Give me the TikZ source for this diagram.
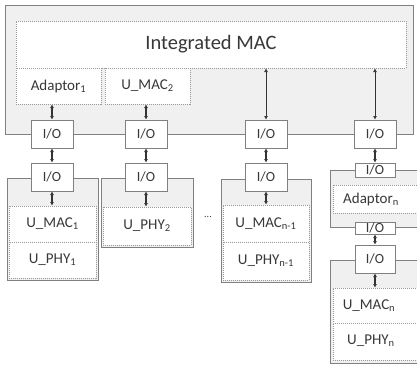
\documentclass[tikz,border=0pt]{standalone}
\usepackage{fontspec}
\setmainfont{Carlito}
\usetikzlibrary{arrows.meta}
\definecolor{edge}{HTML}{808080}
\definecolor{dots}{HTML}{999999}
\definecolor{fillg}{HTML}{F0F0F0}
\definecolor{txt}{HTML}{383838}
\tikzset{
  graybox/.style={draw=edge, line width=1pt, fill=fillg, inner sep=0pt},
  dotbox/.style={draw=dots, line width=1pt, dash pattern=on 1pt off 1pt, fill=white, inner sep=0pt, text=txt, font=\fontsize{15}{15}\selectfont},
  iobox/.style={draw=edge, line width=1pt, fill=white, inner sep=0pt, text=txt, font=\fontsize{14}{14}\selectfont, minimum width=42pt, minimum height=28pt},
  lbl/.style={text=txt, font=\fontsize{15}{15}\selectfont, inner sep=0pt},
  arr/.style={{Latex[length=3.5pt,width=4pt]}-{Latex[length=3.5pt,width=4pt]}, line width=1.1pt, draw=black!80},
  longarr/.style={{Latex[length=3.5pt,width=4pt]}-{Latex[length=3.5pt,width=4pt]}, line width=0.6pt, draw=black!80}
}
\begin{document}
\begin{tikzpicture}[x=1pt,y=-1pt]
\clip (0,0) rectangle (417,368);
\fill[white] (0,0) rectangle (417,368);
% top block
\node[graybox, minimum width=408pt, minimum height=129pt] (outer) at (209,69.5) {};
\node[dotbox, minimum width=390pt, minimum height=47pt, font=\fontsize{20.5}{20.5}\selectfont] (imac) at (211,44.5) {Integrated MAC};
\node[dotbox, minimum width=85pt, minimum height=36pt] (ad1) at (58.5,86) {Adaptor\textsubscript{1}};
\node[dotbox, minimum width=85pt, minimum height=36pt] (um2) at (147.5,86) {U\_MAC\textsubscript{2}};
% lower blocks
\node[graybox, minimum width=91pt, minimum height=102pt] (b1) at (52.5,229) {};
\node[graybox, minimum width=92pt, minimum height=69pt] (b2) at (147,212.5) {};
\node[graybox, minimum width=90pt, minimum height=103pt] (b3) at (266,230.5) {};
\node[dotbox, minimum width=87pt, minimum height=36pt] (um1) at (52.5,224) {U\_MAC\textsubscript{1}};
\node[dotbox, minimum width=87pt, minimum height=36pt] (up1) at (52.5,260) {U\_PHY\textsubscript{1}};
\node[dotbox, minimum width=88pt, minimum height=38pt] (up2) at (147,226) {U\_PHY\textsubscript{2}};
\node[dotbox, minimum width=86pt, minimum height=37pt] (umn1) at (266,223.5) {U\_MAC\textsubscript{n-1}};
\node[dotbox, minimum width=86pt, minimum height=38pt] (upn1) at (266,261) {U\_PHY\textsubscript{n-1}};
\node[text=txt, font=\fontsize{10}{10}\selectfont, inner sep=0pt] (dts) at (208,217) {...};
% column n
\node[graybox, minimum width=95pt, minimum height=57pt] (bn1) at (377.5,198.5) {};
\node[dotbox, minimum width=92pt, minimum height=28pt] (adn) at (379,199) {};
\node[lbl] (adnt) at (371,199) {Adaptor\textsubscript{n}};
\node[graybox, minimum width=95pt, minimum height=103pt] (bn2) at (377.5,311.5) {};
\node[dotbox, minimum width=92pt, minimum height=35pt] (umn) at (379,305.5) {};
\node[lbl] (umnt) at (369,306) {U\_MAC\textsubscript{n}};
\node[dotbox, minimum width=92pt, minimum height=37pt] (upn) at (379,341.5) {};
\node[lbl] (upnt) at (371,341) {U\_PHY\textsubscript{n}};
% I/O boxes
\node[iobox] (io1a) at (52,134) {I/O};
\node[iobox] (io2a) at (146,134) {I/O};
\node[iobox] (io3a) at (266,134) {I/O};
\node[iobox] (io4a) at (375,134) {I/O};
\node[iobox] (io1b) at (52,177) {I/O};
\node[iobox] (io2b) at (146,177) {I/O};
\node[iobox] (io3b) at (266,177) {I/O};
\node[iobox, minimum width=40pt, minimum height=14pt] (ios1) at (375,170) {I/O};
\node[iobox, minimum width=40pt, minimum height=12pt] (ios2) at (375,228) {I/O};
\node[iobox, minimum width=40pt] (io4c) at (375,259) {I/O};
% connectors
\draw[arr] (io1a.north) -- (io1a.north |- ad1.south);
\draw[arr] (io2a.north) -- (io2a.north |- um2.south);
\draw[longarr] (io3a.north) -- (io3a.north |- imac.south);
\draw[longarr] (io4a.north) -- (io4a.north |- imac.south);
\draw[arr] (io1a) -- (io1b);
\draw[arr] (io2a) -- (io2b);
\draw[arr] (io3a) -- (io3b);
\draw[arr] (io4a) -- (ios1);
\draw[arr] (ios2) -- (io4c);
\draw[arr] (io1b.south) -- (io1b.south |- um1.north);
\draw[arr] (io2b.south) -- (io2b.south |- up2.north);
\draw[arr] (io3b.south) -- (io3b.south |- umn1.north);
\draw[arr] (io4c.south) -- (io4c.south |- umn.north);
\end{tikzpicture}
\end{document}
